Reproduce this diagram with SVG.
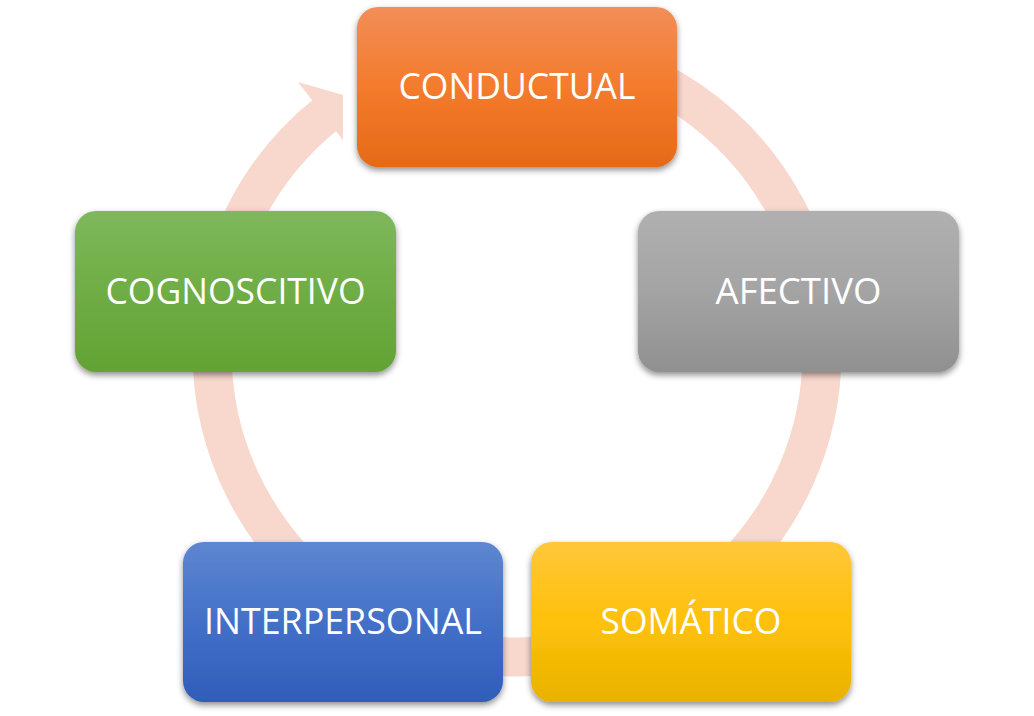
<svg xmlns="http://www.w3.org/2000/svg" width="1034" height="716" viewBox="0 0 1034 716">
  <defs>
    <linearGradient id="gOrange" x1="0" y1="0" x2="0" y2="1">
      <stop offset="0" stop-color="#F28E58"/>
      <stop offset="0.5" stop-color="#F47B2C"/>
      <stop offset="1" stop-color="#E56A18"/>
    </linearGradient>
    <linearGradient id="gGray" x1="0" y1="0" x2="0" y2="1">
      <stop offset="0" stop-color="#B0B0B0"/>
      <stop offset="0.5" stop-color="#A4A4A4"/>
      <stop offset="1" stop-color="#909090"/>
    </linearGradient>
    <linearGradient id="gGold" x1="0" y1="0" x2="0" y2="1">
      <stop offset="0" stop-color="#FFC73A"/>
      <stop offset="0.5" stop-color="#FEC10A"/>
      <stop offset="1" stop-color="#E9B200"/>
    </linearGradient>
    <linearGradient id="gBlue" x1="0" y1="0" x2="0" y2="1">
      <stop offset="0" stop-color="#5E86D0"/>
      <stop offset="0.5" stop-color="#4370C8"/>
      <stop offset="1" stop-color="#2F5DB9"/>
    </linearGradient>
    <linearGradient id="gGreen" x1="0" y1="0" x2="0" y2="1">
      <stop offset="0" stop-color="#7EB85B"/>
      <stop offset="0.5" stop-color="#6FAD45"/>
      <stop offset="1" stop-color="#62A334"/>
    </linearGradient>
    <filter id="shadow" x="-10%" y="-10%" width="120%" height="130%">
      <feDropShadow dx="0" dy="3" stdDeviation="3" flood-color="#000" flood-opacity="0.45"/>
    </filter>
    <clipPath id="headClip">
      <rect x="0" y="0" width="343" height="716"/>
    </clipPath>
  </defs>
  <style>
    .box { filter: url(#shadow); }
    .lbl { font-family: "Open Sans", "Liberation Sans", sans-serif; font-size: 36px; fill: #FFFFFF; text-anchor: middle; }
    .ring { fill: none; stroke: #F8D7CD; stroke-width: 39; }
    .head { fill: #F8D7CD; }
  </style>
  <g id="connectors">
    <path class="ring" d="M 570 51.6 A 305 305 0 1 1 329.2 111.7"/>
    <polygon class="head" clip-path="url(#headClip)" points="298,82 350,97 352,152"/>
  </g>
  <g id="node-conductual">
    <rect class="box" x="357" y="7" width="320" height="160" rx="21" fill="url(#gOrange)"/>
    <text class="lbl" x="517" y="99" textLength="237" lengthAdjust="spacingAndGlyphs">CONDUCTUAL</text>
  </g>
  <g id="node-afectivo">
    <rect class="box" x="638" y="211" width="321" height="161" rx="21" fill="url(#gGray)"/>
    <text class="lbl" x="798.5" y="303.5" textLength="166" lengthAdjust="spacingAndGlyphs">AFECTIVO</text>
  </g>
  <g id="node-somatico">
    <rect class="box" x="531" y="542" width="320" height="160" rx="21" fill="url(#gGold)"/>
    <text class="lbl" x="691" y="634" textLength="181" lengthAdjust="spacingAndGlyphs">SOMÁTICO</text>
  </g>
  <g id="node-interpersonal">
    <rect class="box" x="183" y="542" width="320" height="160" rx="21" fill="url(#gBlue)"/>
    <text class="lbl" x="343" y="634" textLength="278" lengthAdjust="spacingAndGlyphs">INTERPERSONAL</text>
  </g>
  <g id="node-cognoscitivo">
    <rect class="box" x="75" y="211" width="321" height="161" rx="21" fill="url(#gGreen)"/>
    <text class="lbl" x="235.5" y="303.5" textLength="260" lengthAdjust="spacingAndGlyphs">COGNOSCITIVO</text>
  </g>
</svg>
